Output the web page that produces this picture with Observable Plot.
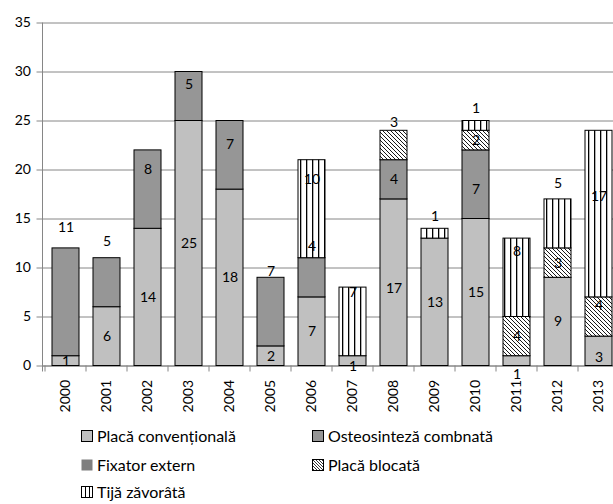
<!DOCTYPE html>
<html>
<head>
<meta charset="utf-8">
<script src="https://cdn.jsdelivr.net/npm/d3@7"></script>
<script src="https://cdn.jsdelivr.net/npm/@observablehq/plot@0.6"></script>
<style>
  html, body { margin: 0; padding: 0; background: #fff; }
  body { width: 613px; height: 504px; overflow: hidden; position: relative; font-family: Lato, "Open Sans", sans-serif; }
  #chart { position: absolute; left: 0; top: 0; }
  .leg { position: absolute; display: flex; align-items: center; font-size: 16px; color: #000; white-space: nowrap; line-height: 1; }
  .leg svg { margin-right: 4px; }
</style>
</head>
<body>
<div id="chart"></div>
<div id="legend"></div>
<script>
// ---- data ----
const years = ["2000","2001","2002","2003","2004","2005","2006","2007","2008","2009","2010","2011","2012","2013"];
const series = ["Placă convențională", "Osteosinteză combnată", "Fixator extern", "Placă blocată", "Tijă zăvorâtă"];
const placaConventionala   = [1, 6, 14, 25, 18, 2, 7, 1, 17, 13, 15, 1, 9, 3];
const osteosintezaCombnata = [11, 5, 8, 5, 7, 7, 4, 0, 4, 0, 7, 0, 0, 0];
const fixatorExtern        = [0, 0, 0, 0, 0, 0, 0, 0, 0, 0, 0, 0, 0, 0];
const placaBlocata         = [0, 0, 0, 0, 0, 0, 0, 0, 3, 0, 2, 4, 3, 4];
const tijaZavorata         = [0, 0, 0, 0, 0, 0, 10, 7, 0, 1, 1, 8, 5, 17];
const yTicks = [0, 5, 10, 15, 20, 25, 30, 35];

// ---- label nudges (layout only, in value units, as placed in the original) ----
const liftPlaca   = [0, 0, 0, 0, 0, 0, 0, -0.6, -0.6, 0, 0, -1.35, 0, -0.6];
const liftOsteo   = [7.6, 4.2, 2.0, 1.2, 1.1, 4.1, 3.2, 0, 0, 0, -0.5, 0, 0, 0];
const liftFixator = [0, 0, 0, 0, 0, 0, 0, 0, 0, 0, 0, 0, 0, 0];
const liftBlocata = [0, 0, 0, 0, 0, 0, 0, 0, 2.3, 0, 0, 0, 0, 1.2];
const liftTija    = [0, 0, 0, 0, 0, 0, 3.0, 3.0, 0, 1.8, 1.8, 2.7, 4.1, 1.75];

// ---- styles ----
const fills = ["#c0c0c0", "#969696", "#7f7f7f", "url(#diagHatch)", "url(#vertStripes)"];
const gridColor = "#868686";

const seriesValues = [placaConventionala, osteosintezaCombnata, fixatorExtern, placaBlocata, tijaZavorata];
const lifts = [liftPlaca, liftOsteo, liftFixator, liftBlocata, liftTija];

const stacked = [];
years.forEach((yr, i) => {
  let base = 0;
  seriesValues.forEach((vals, s) => {
    const v = vals[i];
    if (v > 0) {
      stacked.push({year: yr, series: series[s], y1: base, y2: base + v, value: v,
                    labelY: base + v / 2 + lifts[s][i]});
    }
    base += v;
  });
});

const chart = Plot.plot({
  width: 613,
  height: 420,
  marginLeft: 42.5,
  marginRight: 0,
  marginTop: 22.5,
  marginBottom: 54.5,
  style: {fontFamily: "Lato, 'Open Sans', sans-serif", fontSize: "14px", color: "#000", background: "#fff", overflow: "visible"},
  x: {domain: years, range: [42.5, 622], paddingInner: 0.34, paddingOuter: 0.17, label: null},
  y: {domain: [0, 35], label: null},
  color: {domain: series, range: fills},
  marks: [
    Plot.gridY(yTicks, {stroke: gridColor, strokeOpacity: 1}),
    Plot.ruleY([0], {stroke: gridColor}),
    Plot.barY(stacked, {x: "year", y1: "y1", y2: "y2", fill: "series", stroke: "#000", strokeWidth: 1}),
    Plot.text(stacked, {x: "year", y: "labelY", text: "value", fontSize: 14, fill: "#000"}),
    Plot.axisY(yTicks, {tickSize: 6, tickPadding: 6, stroke: gridColor, fill: "#000", fontSize: 14, label: null}),
    Plot.axisX({tickRotate: -90, tickSize: 0, tickPadding: 14, fontSize: 14, label: null})
  ]
});

// pattern definitions
const svg = d3.select(chart);
const defs = svg.insert("defs", ":first-child");
const diag = defs.append("pattern").attr("id", "diagHatch").attr("patternUnits", "userSpaceOnUse")
  .attr("width", 4).attr("height", 4);
diag.append("rect").attr("width", 4).attr("height", 4).attr("fill", "#fff");
diag.append("path").attr("d", "M-1,-1 L5,5 M-1,3 L1,5 M3,-1 L5,1").attr("stroke", "#000").attr("stroke-width", 0.9);
const vert = defs.append("pattern").attr("id", "vertStripes").attr("patternUnits", "userSpaceOnUse")
  .attr("width", 6).attr("height", 6);
vert.append("rect").attr("width", 6).attr("height", 6).attr("fill", "#fff");
vert.append("rect").attr("x", 0).attr("width", 1.3).attr("height", 6).attr("fill", "#000");

// axis lines and category-boundary ticks, from Plot's scales
const xs = chart.scale("x");
const ys = chart.scale("y");
const y0 = ys.apply(0), yTop = ys.apply(35);
const left = xs.range[0];
const extra = svg.append("g").attr("stroke", gridColor).attr("fill", "none");
extra.append("line").attr("x1", left).attr("x2", left).attr("y1", yTop).attr("y2", y0 + 6);
const gap = (xs.step - xs.bandwidth) / 2;
years.forEach(yr => {
  const bx = xs.apply(yr) - gap;
  extra.append("line").attr("x1", bx).attr("x2", bx).attr("y1", y0).attr("y2", y0 + 6);
});

document.getElementById("chart").appendChild(chart);

// ---- legend ----
const legendItems = [
  {name: series[0], col: 0, row: 0, fill: fills[0], border: true},
  {name: series[1], col: 1, row: 0, fill: fills[1], border: true},
  {name: series[2], col: 0, row: 1, fill: fills[2], border: false},
  {name: series[3], col: 1, row: 1, fill: fills[3], border: true},
  {name: series[4], col: 0, row: 2, fill: fills[4], border: true}
];
const colX = [81, 312];
const rowY = [436, 465, 492];
const legend = document.getElementById("legend");
legendItems.forEach((it, k) => {
  const d = document.createElement("div");
  d.className = "leg";
  d.style.left = colX[it.col] + "px";
  d.style.top = (rowY[it.row] - 8) + "px";
  d.style.height = "16px";
  const pid = "lp" + k;
  let fill = it.fill;
  let defsStr = "";
  if (fill === "url(#diagHatch)") {
    defsStr = `<defs><pattern id="${pid}" patternUnits="userSpaceOnUse" width="3" height="3"><rect width="3" height="3" fill="#fff"/><path d="M-1,-1 L4,4 M-1,2 L1,4 M2,-1 L4,1" stroke="#000" stroke-width="0.8"/></pattern></defs>`;
    fill = `url(#${pid})`;
  } else if (fill === "url(#vertStripes)") {
    defsStr = `<defs><pattern id="${pid}" patternUnits="userSpaceOnUse" width="4" height="4"><rect width="4" height="4" fill="#fff"/><rect x="0" width="1" height="4" fill="#000"/></pattern></defs>`;
    fill = `url(#${pid})`;
  }
  const stroke = it.border ? 'stroke="#000" stroke-width="1"' : '';
  d.innerHTML = `<svg width="12" height="12">${defsStr}<rect x="0.5" y="0.5" width="11" height="11" fill="${fill}" ${stroke}/></svg><span>${it.name}</span>`;
  legend.appendChild(d);
});
</script>
</body>
</html>
